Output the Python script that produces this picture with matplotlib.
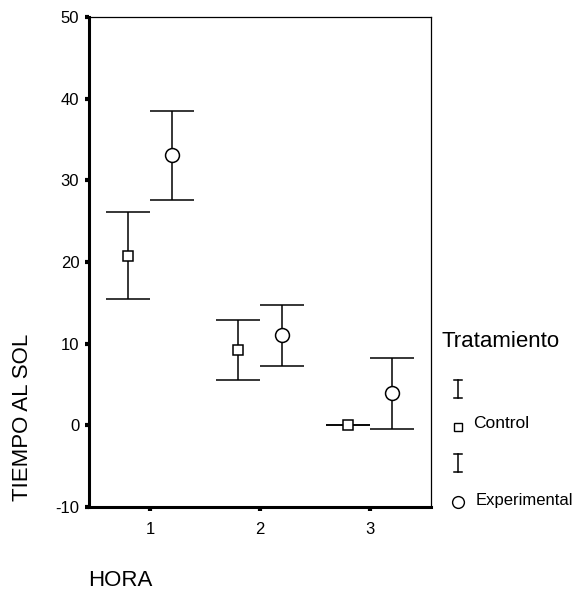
import matplotlib
matplotlib.use("Agg")
import matplotlib.pyplot as plt
from matplotlib.lines import Line2D

plt.rcParams['font.family'] = ['Liberation Sans', 'DejaVu Sans']
plt.rcParams['axes.unicode_minus'] = False

horas = [1, 2, 3]
hora_labels = ['1', '2', '3']
control_mean = [20.7, 9.2, 0.0]
control_low = [15.5, 5.5, 0.0]
control_high = [26.1, 12.9, 0.0]
exp_mean = [33.1, 11.0, 3.9]
exp_low = [27.6, 7.3, -0.4]
exp_high = [38.5, 14.7, 8.3]

offset = 0.2
W, H = 579, 592

fig = plt.figure(figsize=(5.79, 5.92), dpi=100)
ax = fig.add_axes([0.1537, 0.1436, 0.5907, 0.8277])

def draw(xs, mean, low, high, marker, ms):
    err = [[m - l for m, l in zip(mean, low)], [h - m for m, h in zip(mean, high)]]
    ax.errorbar(xs, mean, yerr=err, fmt='none', ecolor='black', elinewidth=1.1,
                capsize=16, capthick=1.1)
    ax.plot(xs, mean, linestyle='none', marker=marker, markersize=ms,
            markerfacecolor='white', markeredgecolor='black', markeredgewidth=1.1, zorder=5)

draw([h - offset for h in horas], control_mean, control_low, control_high, 's', 7)
draw([h + offset for h in horas], exp_mean, exp_low, exp_high, 'o', 10)

ax.set_xlim(0.44, 3.56)
ax.set_ylim(-10, 50)
ax.set_xticks(horas)
ax.set_xticklabels(hora_labels)
ax.set_yticks([-10, 0, 10, 20, 30, 40, 50])
ax.tick_params(axis='both', direction='out', length=3, width=3, labelsize=12, pad=4)
ax.tick_params(axis='x', pad=8)

ax.spines['left'].set_linewidth(2.2)
ax.spines['bottom'].set_linewidth(2.2)
ax.spines['top'].set_linewidth(0.9)
ax.spines['right'].set_linewidth(0.9)

fig.text(23 / W, 1 - 417 / H, 'TIEMPO AL SOL', rotation=90, fontsize=16, ha='center', va='center')
fig.text(88 / W, 1 - 586 / H, 'HORA', fontsize=16, ha='left', va='baseline')

# leyenda
def ibeam(yc):
    x0 = 458
    fig.add_artist(Line2D([x0 / W, x0 / W], [1 - (yc - 9) / H, 1 - (yc + 9) / H],
                          color='black', linewidth=1.1, transform=fig.transFigure))
    for yy in (yc - 9, yc + 9):
        fig.add_artist(Line2D([(x0 - 4) / W, (x0 + 4) / W], [1 - yy / H, 1 - yy / H],
                              color='black', linewidth=1.1, transform=fig.transFigure))

fig.text(441 / W, 1 - 347 / H, 'Tratamiento', fontsize=16, ha='left', va='baseline')
ibeam(389)
fig.add_artist(Line2D([458 / W], [1 - 427 / H], marker='s', markersize=5.5, markerfacecolor='white',
                      markeredgecolor='black', markeredgewidth=1.0, transform=fig.transFigure))
fig.text(473 / W, 1 - 428 / H, 'Control', fontsize=12.5, ha='left', va='baseline')
ibeam(463)
fig.add_artist(Line2D([458 / W], [1 - 502 / H], marker='o', markersize=8.5, markerfacecolor='white',
                      markeredgecolor='black', markeredgewidth=1.0, transform=fig.transFigure))
fig.text(476 / W, 1 - 505 / H, 'Experimental', fontsize=12, ha='left', va='baseline')

fig.savefig('out.png', dpi=100)
